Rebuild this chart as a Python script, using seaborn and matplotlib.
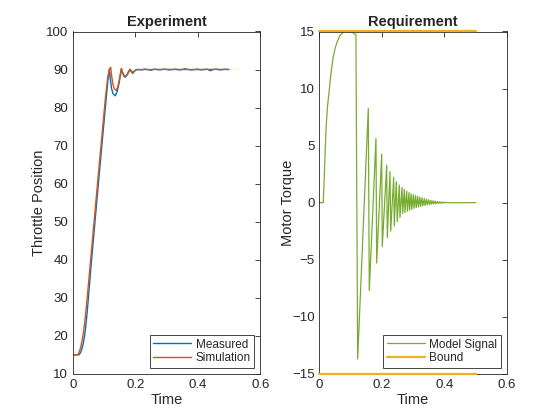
import matplotlib
matplotlib.use("Agg")
import matplotlib.pyplot as plt
import seaborn as sns

# ---- data ----
# Experiment: measured throttle position
meas_t = [0, 0.02, 0.025, 0.03, 0.035, 0.04, 0.045, 0.05, 0.057, 0.067, 0.077, 0.087, 0.097,
          0.107, 0.112, 0.117,
          0.120, 0.124, 0.129, 0.136, 0.142, 0.147, 0.152, 0.1565, 0.160, 0.164, 0.168, 0.172,
          0.177, 0.183, 0.187, 0.192, 0.197, 0.203,
          0.21, 0.22, 0.23, 0.24, 0.25, 0.26, 0.27, 0.28, 0.29, 0.30, 0.31, 0.32, 0.33, 0.34,
          0.35, 0.36, 0.37, 0.38, 0.39, 0.40, 0.41, 0.42, 0.43, 0.44, 0.45, 0.46, 0.47, 0.48,
          0.49, 0.50]
meas_v = [15, 15, 15.6, 16.8, 18.6, 21.4, 25.3, 30.0, 37.0, 46.3, 55.5, 64.6, 73.6,
          82.5, 86.8, 90.2,
          87.6, 85.0, 83.6, 83.1, 84.2, 86.0, 88.2, 90.1, 89.0, 88.2, 88.0, 88.4,
          89.3, 90.05, 89.4, 89.0, 89.5, 90.0,
          90.0, 89.9, 90.1, 90.0, 89.8, 90.1, 90.0, 89.9, 90.1, 90.0, 89.9, 90.0, 90.1, 89.9,
          90.0, 90.2, 90.0, 89.9, 90.0, 90.1, 89.9, 90.0, 90.1, 89.7, 90.0, 90.1, 89.9, 90.0,
          90.1, 90.0]

# Experiment: simulated throttle position
sim_t = [0, 0.016, 0.02, 0.025, 0.03, 0.035, 0.04, 0.045, 0.05, 0.055, 0.065, 0.075, 0.085,
         0.095, 0.105, 0.112, 0.117, 0.1213,
         0.124, 0.128, 0.133, 0.1388, 0.144, 0.149, 0.155, 0.159, 0.164, 0.171, 0.177, 0.183,
         0.188, 0.193, 0.2, 0.21,
         0.25, 0.30, 0.35, 0.40, 0.45, 0.50]
sim_v = [15, 15, 15.6, 16.9, 18.8, 21.4, 24.9, 29.0, 33.5, 38.0, 47.2, 56.3, 65.3,
         74.3, 83.0, 88.0, 90.0, 90.6,
         88.6, 86.3, 84.9, 84.45, 85.4, 87.4, 90.3, 89.3, 88.5, 88.3, 88.9, 90.1,
         89.6, 89.3, 89.8, 90.0,
         90.0, 90.05, 90.0, 90.0, 90.05, 90.0]

# Requirement: model motor torque
torque_t = [0, 0.0125, 0.016, 0.019, 0.022, 0.026, 0.031, 0.037, 0.044, 0.050, 0.057, 0.065,
            0.073, 0.081, 0.089, 0.097, 0.107, 0.117,
            0.1226, 0.1566, 0.1598, 0.1812, 0.1835, 0.1995, 0.2014, 0.2155, 0.2174, 0.2261,
            0.2283, 0.2379, 0.2398, 0.2462, 0.2494, 0.2558, 0.2581, 0.2645, 0.2667, 0.2719,
            0.2740, 0.2795, 0.2818, 0.2870, 0.2890, 0.2940, 0.2960, 0.3010, 0.3030, 0.3080,
            0.3100, 0.3150, 0.3170, 0.3220, 0.3240, 0.3290, 0.3310, 0.3360, 0.3380, 0.3430,
            0.3450, 0.3500, 0.3520, 0.3570, 0.3590, 0.3640, 0.3660, 0.3710, 0.3730, 0.3780,
            0.3800, 0.3850, 0.3870, 0.3920, 0.3940, 0.4000, 0.4020, 0.4100, 0.4200, 0.5000]
torque_v = [0, 0, 2.5, 4.8, 6.8, 8.4, 9.7, 11.3, 12.7, 13.5, 14.1, 14.6,
            14.85, 15.0, 15.02, 14.98, 14.9, 14.7,
            -13.7, 8.27, -7.7, 5.64, -5.3, 4.24, -3.86, 3.3, -3.07, 2.72,
            -2.49, 2.22, -2.05, 1.84, -1.67, 1.55, -1.29, 1.34, -0.94, 1.17,
            -0.85, 1.0, -0.75, 0.88, -0.66, 0.78, -0.58, 0.7, -0.5, 0.62,
            -0.44, 0.55, -0.38, 0.48, -0.33, 0.42, -0.28, 0.36, -0.24, 0.3,
            -0.2, 0.25, -0.17, 0.2, -0.14, 0.16, -0.11, 0.13, -0.09, 0.1,
            -0.07, 0.08, -0.05, 0.06, -0.04, 0.04, -0.03, 0.02, -0.01, 0]

bound_t = [0, 0.5]
bound_hi = [15, 15]
bound_lo = [-15, -15]

# ---- style ----
sns.set_style("white")
plt.rcParams['font.family'] = ['Liberation Sans', 'DejaVu Sans']
plt.rcParams.update({
    'xtick.direction': 'in', 'ytick.direction': 'in',
    'xtick.top': True, 'ytick.right': True,
    'xtick.major.size': 3.5, 'ytick.major.size': 3.5,
    'xtick.major.width': 0.6, 'ytick.major.width': 0.6,
    'axes.edgecolor': '#262626', 'axes.linewidth': 0.6,
    'xtick.color': '#262626', 'ytick.color': '#262626',
    'xtick.labelsize': 9.5, 'ytick.labelsize': 9.5,
})

fig = plt.figure(figsize=(5.6, 4.2), dpi=100)
ax1 = fig.add_axes([0.13, 0.11, 0.3347, 0.815])
ax2 = fig.add_axes([0.5703, 0.11, 0.3347, 0.815])

# Experiment
sns.lineplot(x=meas_t, y=meas_v, ax=ax1, color='#0072BD', linewidth=1.0,
             estimator=None, label='Measured')
sns.lineplot(x=sim_t, y=sim_v, ax=ax1, color='#D95319', linewidth=1.0,
             estimator=None, label='Simulation')
ax1.set_xlim(0, 0.6)
ax1.set_ylim(10, 100)
ax1.set_xticks([0, 0.2, 0.4, 0.6])
ax1.set_xticklabels(['0', '0.2', '0.4', '0.6'])
ax1.set_yticks(range(10, 101, 10))
ax1.set_title('Experiment', fontsize=10.5, fontweight='bold', pad=4)
ax1.set_xlabel('Time', fontsize=10.5, labelpad=2)
ax1.set_ylabel('Throttle Position', fontsize=10.5, labelpad=0)
leg1 = ax1.legend(loc='lower right', fontsize=8.5, fancybox=False, framealpha=1,
                  edgecolor='#262626', handlelength=3.2, borderpad=0.3,
                  labelspacing=0.15, borderaxespad=0.5, handletextpad=0.4)
leg1.get_frame().set_linewidth(0.6)

# Requirement
sns.lineplot(x=torque_t, y=torque_v, ax=ax2, color='#77AC30', linewidth=0.9,
             estimator=None, sort=False, label='Model Signal')
sns.lineplot(x=bound_t, y=bound_hi, ax=ax2, color='#EDB120', linewidth=1.6,
             estimator=None, label='Bound')
sns.lineplot(x=bound_t, y=bound_lo, ax=ax2, color='#EDB120', linewidth=1.6,
             estimator=None, legend=False)
for ln in ax2.lines[1:]:
    ln.set_clip_on(False)
    ln.set_zorder(3)
ax2.set_xlim(0, 0.6)
ax2.set_ylim(-15, 15)
ax2.set_xticks([0, 0.2, 0.4, 0.6])
ax2.set_xticklabels(['0', '0.2', '0.4', '0.6'])
ax2.set_yticks(range(-15, 16, 5))
ax2.set_title('Requirement', fontsize=10.5, fontweight='bold', pad=4)
ax2.set_xlabel('Time', fontsize=10.5, labelpad=2)
ax2.set_ylabel('Motor Torque', fontsize=10.5, labelpad=-2.5)
leg2 = ax2.legend(loc='lower right', fontsize=8.5, fancybox=False, framealpha=1,
                  edgecolor='#262626', handlelength=3.2, borderpad=0.3,
                  labelspacing=0.15, borderaxespad=0.5, handletextpad=0.4)
leg2.get_frame().set_linewidth(0.6)

for ax in (ax1, ax2):
    for s in ax.spines.values():
        s.set_visible(True)

fig.savefig('out.png', dpi=100, facecolor='white')
